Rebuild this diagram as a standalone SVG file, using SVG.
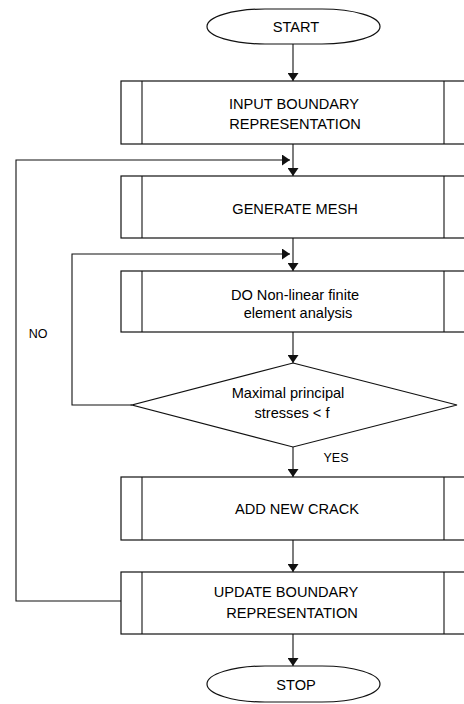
<svg xmlns="http://www.w3.org/2000/svg" width="464" height="704" viewBox="0 0 464 704">
<defs>
<style>
.s{fill:#fff;stroke:#111;stroke-width:1.2}
.l{fill:none;stroke:#111;stroke-width:1.1}
.t{font-family:"Liberation Sans",Arial,sans-serif;font-size:14.6px;fill:#000;text-anchor:middle}
.sm{font-family:"Liberation Sans",Arial,sans-serif;font-size:12.5px;fill:#000;text-anchor:middle}
</style>
<marker id="ah" viewBox="0 0 8 11" refX="8" refY="5.5" markerWidth="8" markerHeight="11" markerUnits="userSpaceOnUse" orient="auto">
<path d="M0,0 L8,5.5 L0,11 Z" fill="#111"/>
</marker>
</defs>
<rect width="464" height="704" fill="#fff"/>
<g id="connectors">
<line class="l" x1="293" y1="43" x2="293" y2="81" marker-end="url(#ah)"/>
<line class="l" x1="293" y1="144" x2="293" y2="176" marker-end="url(#ah)"/>
<line class="l" x1="293" y1="238" x2="293" y2="271" marker-end="url(#ah)"/>
<line class="l" x1="293" y1="332" x2="293" y2="363" marker-end="url(#ah)"/>
<line class="l" x1="293" y1="447" x2="293" y2="477" marker-end="url(#ah)"/>
<line class="l" x1="293" y1="540" x2="293" y2="572" marker-end="url(#ah)"/>
<line class="l" x1="293" y1="634" x2="293" y2="666" marker-end="url(#ah)"/>
<polyline class="l" points="121,601 16,601 16,160 290,160" marker-end="url(#ah)"/>
<polyline class="l" points="132,405 72,405 72,254 290,254" marker-end="url(#ah)"/>
<text class="sm" x="38" y="338">NO</text>
<text class="sm" x="336" y="462">YES</text>
</g>
<g id="start">
<rect class="s" x="207" y="9" width="173" height="35" rx="58" ry="17.5"/>
<text class="t" x="296" y="32">START</text>
</g>
<g id="input">
<rect class="s" x="121" y="81" width="345" height="63"/>
<line class="l" x1="142" y1="81" x2="142" y2="144"/>
<line class="l" x1="444" y1="81" x2="444" y2="144"/>
<text class="t" x="294" y="109">INPUT BOUNDARY</text>
<text class="t" x="295" y="129">REPRESENTATION</text>
</g>
<g id="mesh">
<rect class="s" x="121" y="176" width="345" height="62"/>
<line class="l" x1="142" y1="176" x2="142" y2="238"/>
<line class="l" x1="444" y1="176" x2="444" y2="238"/>
<text class="t" x="295" y="214">GENERATE MESH</text>
</g>
<g id="fea">
<rect class="s" x="121" y="271" width="345" height="61"/>
<line class="l" x1="142" y1="271" x2="142" y2="332"/>
<line class="l" x1="444" y1="271" x2="444" y2="332"/>
<text class="t" x="295" y="300">DO Non-linear finite</text>
<text class="t" x="298" y="318">element  analysis</text>
</g>
<g id="decision">
<polygon class="s" points="293,363 457,405 293,447 132,405"/>
<text class="t" x="288" y="398">Maximal principal</text>
<text class="t" x="292" y="418">stresses &lt; f</text>
</g>
<g id="crack">
<rect class="s" x="121" y="477" width="345" height="63"/>
<line class="l" x1="142" y1="477" x2="142" y2="540"/>
<line class="l" x1="444" y1="477" x2="444" y2="540"/>
<text class="t" x="297" y="514">ADD NEW CRACK</text>
</g>
<g id="update">
<rect class="s" x="121" y="572" width="345" height="62"/>
<line class="l" x1="142" y1="572" x2="142" y2="634"/>
<line class="l" x1="444" y1="572" x2="444" y2="634"/>
<text class="t" x="286" y="597">UPDATE BOUNDARY</text>
<text class="t" x="292" y="618">REPRESENTATION</text>
</g>
<g id="stop">
<rect class="s" x="207" y="666" width="173" height="36" rx="58" ry="18"/>
<text class="t" x="296" y="690">STOP</text>
</g>
</svg>
